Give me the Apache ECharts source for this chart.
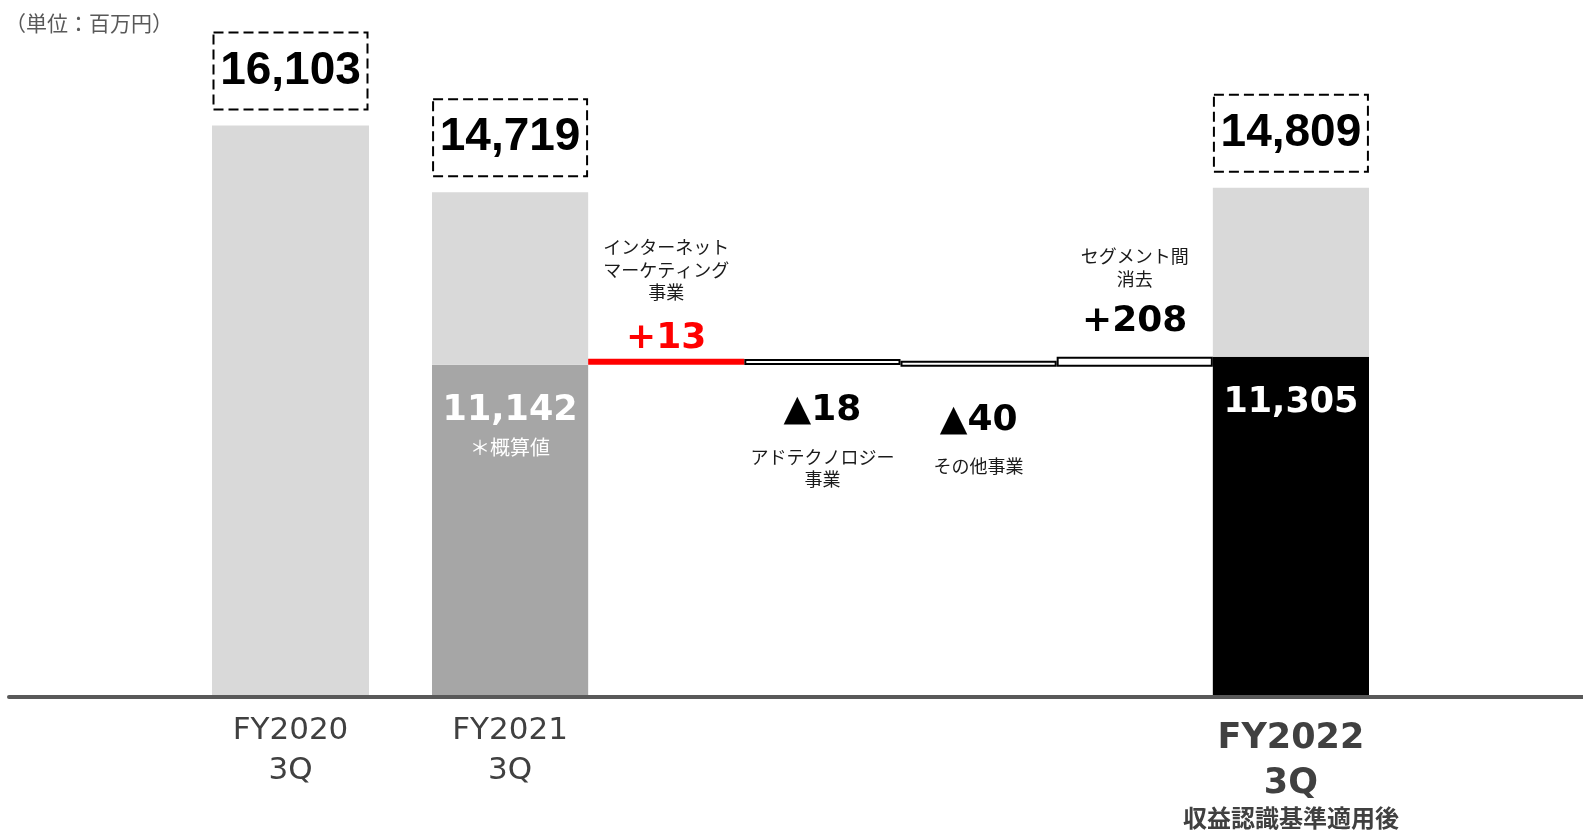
<!DOCTYPE html>
<html>
<head>
<meta charset="utf-8">
<script src="https://cdn.jsdelivr.net/npm/echarts@6/dist/echarts.min.js"></script>
<style>
html,body{margin:0;padding:0;background:#fff;}
#chart{width:1583px;height:830px;}
</style>
</head>
<body>
<div id="chart"></div>
<script>
// ---- data ----
const categories = ['FY2020\n3Q', 'FY2021\n3Q', 'インターネット\nマーケティング\n事業', 'アドテクノロジー\n事業', 'その他事業', 'セグメント間\n消去', 'FY2022\n3Q'];
const totalValues = [16103, 14719, 14809];      // FY2020 3Q, FY2021 3Q, FY2022 3Q
const coreValues = [11142, 11305];              // FY2021 3Q (概算値), FY2022 3Q
const changeValues = [13, -18, -40, 208];       // waterfall changes
const unitLabel = '（単位：百万円）';
const coreNote = '＊概算値';
const fy2022Note = '収益認識基準適用後';

// ---- derived waterfall ----
const wfBase = [], wfDelta = [];
let running = coreValues[0];
changeValues.forEach(c => {
  if (c >= 0) { wfBase.push(running); running += c; }
  else { running += c; wfBase.push(running); }
  wfDelta.push(Math.abs(c));
});

const fmt = v => v.toLocaleString('en-US');
const CJK = "'Noto Sans CJK JP', sans-serif";
const NUM = "'DejaVu Sans', sans-serif";
const BOX = "'Liberation Sans', sans-serif";

const Y_MIN = 4250, Y_MAX = 18000;
const GRID_TOP = 34, GRID_BOTTOM = 133;

const boxLabel = (formatter) => ({
  show: true, position: 'top', distance: 16,
  formatter,
  width: 154, height: 77, lineHeight: 77,
  align: 'center',
  borderColor: '#000', borderWidth: 2, borderType: [10, 5],
  fontFamily: BOX, fontWeight: 'bold', fontSize: 46, color: '#000'
});

const nameStyle = (lh) => ({ fontFamily: CJK, fontSize: 18, lineHeight: lh, color: '#1a1a1a' });
const valStyle = (color) => ({ fontFamily: NUM, fontWeight: 'bold', fontSize: 36, lineHeight: 36, color });

// per-change label layout
const changeLabelCfg = [
  { pos: 'top', distance: 2.5, nameLH: 22.5, spacer: 16.5, color: '#FF0000' },
  { pos: 'bottom', distance: 28, nameLH: 22, spacer: 17, color: '#000' },
  { pos: 'bottom', distance: 36, nameLH: 22, spacer: 16, color: '#000' },
  { pos: 'top', distance: 17, nameLH: 23, spacer: 13, color: '#000' }
];

function changeLabel(i) {
  const cfg = changeLabelCfg[i];
  const c = changeValues[i];
  const valText = (c >= 0 ? '+' : '▲') + Math.abs(c);
  const names = categories[i + 2].split('\n').map(l => `{n|${l}}`).join('\n');
  const text = cfg.pos === 'top'
    ? `${names}\n{s| }\n{v|${valText}}`
    : `{v|${valText}}\n{s| }\n${names}`;
  return {
    show: true, position: cfg.pos, distance: cfg.distance,
    formatter: text, align: 'center',
    rich: {
      n: nameStyle(cfg.nameLH),
      s: { fontSize: 1, lineHeight: cfg.spacer },
      v: valStyle(cfg.color)
    }
  };
}

const midCount = changeValues.length;
const blanks = n => Array(n).fill('-');

const chart = echarts.init(document.getElementById('chart'), null, { renderer: 'canvas' });

const gridBase = { top: GRID_TOP, bottom: GRID_BOTTOM, outerBoundsMode: 'none', containLabel: false };

const option = {
  backgroundColor: '#fff',
  animation: false,
  title: {
    text: unitLabel, left: 0, top: 8,
    textStyle: { fontFamily: CJK, fontSize: 21, fontWeight: 'normal', color: '#595959' }
  },
  grid: [
    Object.assign({ left: 212, width: 157 }, gridBase),
    Object.assign({ left: 432, width: 937 }, gridBase),
    Object.assign({ left: 9, right: 0 }, gridBase)
  ],
  xAxis: [
    {
      gridIndex: 0, type: 'category', data: [categories[0]],
      axisLine: { show: false }, axisTick: { show: false },
      axisLabel: {
        interval: 0, margin: 14,
        formatter: v => v.split('\n').map(l => `{n|${l}}`).join('\n'),
        rich: { n: { fontFamily: NUM, fontSize: 31, lineHeight: 40, color: '#404040' } }
      }
    },
    {
      gridIndex: 1, type: 'category', data: categories.slice(1),
      axisLine: { show: false }, axisTick: { show: false },
      axisLabel: {
        interval: 0, margin: 14,
        formatter: (v, idx) => {
          const lines = v.split('\n');
          if (idx === 0) return lines.map(l => `{n|${l}}`).join('\n');
          if (idx === categories.length - 2) return `{b1|${lines[0]}}\n{b2|${lines[1]}}\n{s|${fy2022Note}}`;
          return '';
        },
        rich: {
          n: { fontFamily: NUM, fontSize: 31, lineHeight: 40, color: '#404040' },
          b1: { fontFamily: NUM, fontWeight: 'bold', fontSize: 35, lineHeight: 56, color: '#404040' },
          b2: { fontFamily: NUM, fontWeight: 'bold', fontSize: 35, lineHeight: 34, color: '#404040' },
          s: { fontFamily: CJK, fontWeight: 'bold', fontSize: 24, lineHeight: 34, color: '#404040' }
        }
      }
    },
    {
      gridIndex: 2, type: 'value', min: 0, max: 1, z: 10,
      axisLine: { show: true, onZero: false, lineStyle: { color: '#595959', width: 4 } },
      axisTick: { show: false }, axisLabel: { show: false }, splitLine: { show: false }
    }
  ],
  yAxis: [0, 1, 2].map(i => ({
    gridIndex: i, type: 'value', min: Y_MIN, max: Y_MAX, show: false,
    splitLine: { show: false }
  })),
  series: [
    // FY2020 total
    {
      type: 'bar', xAxisIndex: 0, yAxisIndex: 0, barWidth: '100%',
      data: [totalValues[0]],
      itemStyle: { color: '#D9D9D9' },
      label: boxLabel(p => fmt(totalValues[0]))
    },
    // core parts (FY2021 estimate, FY2022)
    {
      type: 'bar', xAxisIndex: 1, yAxisIndex: 1, stack: 'all', barCategoryGap: '0%',
      data: [
        { value: coreValues[0], itemStyle: { color: '#A6A6A6' }, label: { distance: 26.5 } },
        ...blanks(midCount),
        { value: coreValues[1], itemStyle: { color: '#000000' }, label: { distance: 26 } }
      ],
      label: {
        show: true, position: 'insideTop', align: 'center',
        formatter: p => p.dataIndex === 0 ? `{v|${fmt(p.value)}}\n{c|${coreNote}}` : `{v|${fmt(p.value)}}`,
        rich: {
          v: { fontFamily: NUM, fontWeight: 'bold', fontSize: 35, lineHeight: 40, color: '#fff' },
          c: { fontFamily: CJK, fontSize: 20, lineHeight: 32, color: '#fff' }
        }
      }
    },
    // remaining up to totals
    {
      type: 'bar', xAxisIndex: 1, yAxisIndex: 1, stack: 'all', barCategoryGap: '0%',
      data: [totalValues[1] - coreValues[0], ...blanks(midCount), totalValues[2] - coreValues[1]],
      itemStyle: { color: '#D9D9D9' },
      label: boxLabel(p => fmt(p.dataIndex === 0 ? totalValues[1] : totalValues[2]))
    },
    // waterfall invisible base
    {
      type: 'bar', xAxisIndex: 1, yAxisIndex: 1, stack: 'all', barCategoryGap: '0%',
      data: ['-', ...wfBase, '-'],
      itemStyle: { color: 'rgba(0,0,0,0)' },
      emphasis: { disabled: true }
    },
    // waterfall deltas
    {
      type: 'bar', xAxisIndex: 1, yAxisIndex: 1, stack: 'all', barCategoryGap: '0%',
      barMinHeight: 6,
      data: ['-', ...wfDelta.map((d, i) => ({
        value: d,
        itemStyle: i === 0
          ? { color: '#FF0000', borderWidth: 0 }
          : { color: '#FFFFFF', borderColor: '#000', borderWidth: 2 },
        label: changeLabel(i)
      })), '-']
    }
  ]
};

chart.setOption(option);
</script>
</body>
</html>
